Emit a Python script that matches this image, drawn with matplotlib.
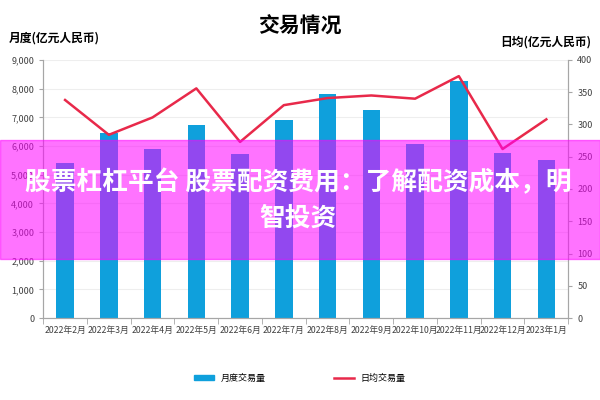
import numpy as np
import matplotlib.pyplot as plt
from matplotlib.patches import Rectangle
from matplotlib.lines import Line2D
from matplotlib.ticker import FuncFormatter

plt.rcParams['font.family'] = ['Noto Sans CJK SC', 'DejaVu Sans']

# data
months = ['2022年2月', '2022年3月', '2022年4月', '2022年5月', '2022年6月', '2022年7月',
          '2022年8月', '2022年9月', '2022年10月', '2022年11月', '2022年12月', '2023年1月']
monthly_volume = [5400, 6450, 5900, 6750, 5720, 6900, 7830, 7250, 6070, 8270, 5750, 5520]
daily_avg = [338, 284, 311, 356, 273, 330, 341, 345, 340, 375, 262, 308]

bar_color = '#0fa0dc'
line_color = '#e8294a'
axis_gray = '#a6a6a6'

fig = plt.figure(figsize=(6, 4), dpi=100)
ax = fig.add_axes([0.072, 0.205, 0.875, 0.645])
ax2 = ax.twinx()

x = np.arange(len(months))
ax.bar(x, monthly_volume, width=0.4, color=bar_color, zorder=2)
ax2.plot(x, daily_avg, color=line_color, lw=1.8, zorder=3)

ax.set_ylim(0, 9000)
ax.set_yticks(range(0, 9001, 1000))
ax.yaxis.set_major_formatter(FuncFormatter(lambda v, p: f'{int(v):,}'))
ax2.set_ylim(0, 400)
ax2.set_yticks(range(0, 401, 50))
ax.set_xlim(-0.5, len(months) - 0.5)

ax.set_xticks(x)
ax.set_xticklabels(months, fontsize=6.3, color='#404040')
ax.set_xticks(np.arange(-0.5, len(months), 1), minor=True)
ax.tick_params(axis='x', which='major', length=0, pad=6)
ax.tick_params(axis='x', which='minor', length=4, color=axis_gray)
ax.tick_params(axis='y', labelsize=6.5, colors='#404040', length=3)
ax2.tick_params(axis='y', labelsize=6.5, colors='#404040', length=3)
for a in (ax, ax2):
    a.tick_params(axis='y', color=axis_gray)

ax.grid(axis='y', color='#eeeeee', lw=0.8, zorder=0)
ax.set_axisbelow(True)
for a in (ax, ax2):
    a.spines['top'].set_visible(False)
    a.spines['left'].set_color(axis_gray)
    a.spines['right'].set_color(axis_gray)
    a.spines['bottom'].set_color(axis_gray)

fig.text(0.5, 0.935, '交易情况', ha='center', va='center', fontsize=15, weight='bold')
fig.text(0.015, 0.905, '月度(亿元人民币)', ha='left', va='center', fontsize=8.5, weight='bold')
fig.text(0.985, 0.895, '日均(亿元人民币)', ha='right', va='center', fontsize=8.5, weight='bold')

# legend
handles = [Rectangle((0, 0), 1, 1, color=bar_color), Line2D([], [], color=line_color, lw=1.8)]
fig.legend(handles, ['月度交易量', '日均交易量'], loc='center', bbox_to_anchor=(0.5, 0.055),
           ncol=2, frameon=False, fontsize=6.5, columnspacing=7.5, handlelength=2.2,
           handleheight=0.5)

# pink overlay banner
fig.patches.append(Rectangle((0, 0.352), 1, 0.298, transform=fig.transFigure,
                             color='#ff00ff', alpha=0.55, zorder=10))
fig.text(0.497, 0.543, '股票杠杠平台 股票配资费用：了解配资成本，明', ha='center', va='center',
         fontsize=18.5, weight='bold', color='white', zorder=11)
fig.text(0.497, 0.455, '智投资', ha='center', va='center',
         fontsize=18.5, weight='bold', color='white', zorder=11)

fig.savefig('out.png', dpi=100)
